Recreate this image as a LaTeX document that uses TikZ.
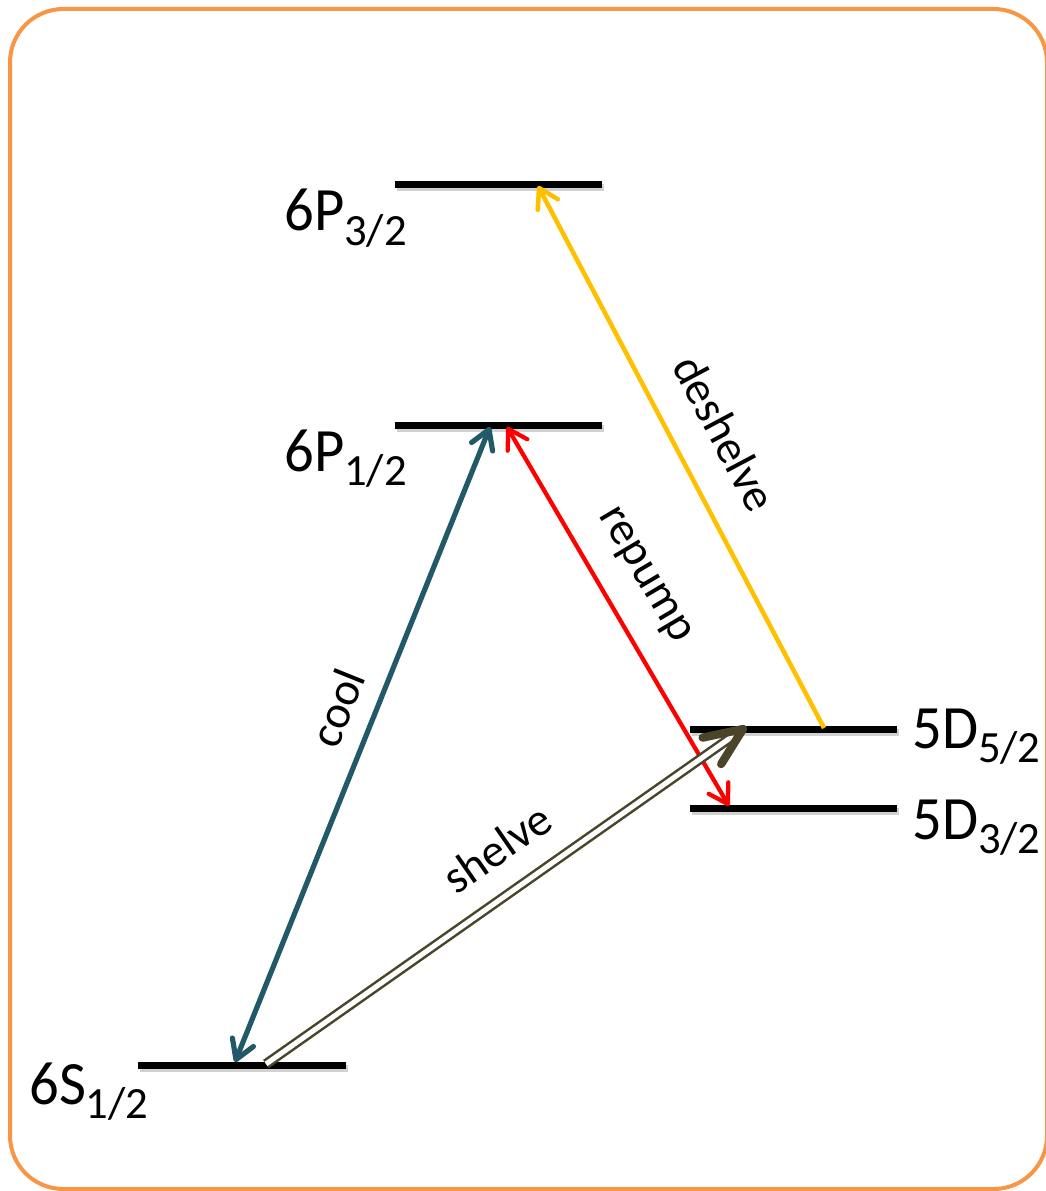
\documentclass[tikz,border=0pt]{standalone}
\usepackage{fontspec}
\setmainfont{Carlito}
\usetikzlibrary{arrows.meta,calc}
\definecolor{frameorange}{RGB}{247,150,70}
\definecolor{coolteal}{RGB}{34,89,105}
\definecolor{deshelvegold}{RGB}{255,192,0}
\definecolor{shelveolive}{RGB}{74,69,42}
\newcommand\lvllabel[2]{\scalebox{1}[1.05]{\fontsize{44}{48}\selectfont #1}{\fontsize{33.5}{36}\selectfont\raisebox{-11pt}{#2}}}
\tikzset{
  level/.style={line width=5.25pt, black},
  levelshadow/.style={line width=5.25pt, black!18},
  lvltext/.style={inner sep=0pt, anchor=base west},
  arrowlab/.style={inner sep=0pt, font=\fontsize{35}{38}\selectfont},
  dbarb/.style={{Straight Barb[round,length=14pt,width=17pt]}-{Straight Barb[round,length=14pt,width=17pt]}},
  sbarb/.style={-{Straight Barb[round,length=14pt,width=17pt]}},
}
\begin{document}
\begin{tikzpicture}[x=0.75pt,y=-0.75pt]
\useasboundingbox (0,0) rectangle (1045,1191);
% frame
\draw[frameorange, line width=3pt, rounded corners=40pt] (10,9) rectangle (1047,1189);

% level coordinates
\coordinate (p32L) at (395,185); \coordinate (p32R) at (602,185);
\coordinate (p12L) at (395,425); \coordinate (p12R) at (602,425);
\coordinate (d52L) at (690,729); \coordinate (d52R) at (897,729);
\coordinate (d32L) at (690,808); \coordinate (d32R) at (897,808);
\coordinate (s12L) at (138,1065); \coordinate (s12R) at (346,1065);

% shadows
\foreach \a/\b in {p32L/p32R,p12L/p12R,d52L/d52R,d32L/d32R,s12L/s12R}
  \draw[levelshadow] ($(\a)+(2,3)$) -- ($(\b)+(2,3)$);
% levels
\draw[level] (p32L) -- (p32R);
\draw[level] (p12L) -- (p12R);
\draw[level] (d52L) -- (d52R);
\draw[level] (d32L) -- (d32R);
\draw[level] (s12L) -- (s12R);

% level labels
\node[lvltext] (t6p32) at (284,231) {\lvllabel{6P}{3/2}};
\node[lvltext] (t6p12) at (284,471) {\lvllabel{6P}{1/2}};
\node[lvltext] (t5d52) at (912,748) {\lvllabel{5D}{5/2}};
\node[lvltext] (t5d32) at (912,839) {\lvllabel{5D}{3/2}};
\node[lvltext] (t6s12) at (29,1104) {\lvllabel{6S}{1/2}};

% transition endpoints
\coordinate (coolTop) at (490,427);
\coordinate (coolBot) at (235,1062);
\coordinate (repTop) at (507,427);
\coordinate (repBot) at (729,806);
\coordinate (desTop) at (538,186);
\coordinate (desBot) at (824,728);
\coordinate (shA) at (266,1064);
\coordinate (shB) at (743,729);

% cool
\draw[coolteal, line width=3.9pt, dbarb] (coolBot) -- (coolTop);
% repump
\draw[red, line width=3.2pt, dbarb] (repTop) -- (repBot);
% deshelve
\draw[deshelvegold, line width=3.4pt, sbarb] (desBot) -- (desTop);
% shelve (double line with heavy barb)
\draw[shelveolive, line width=1.9pt, double=white, double distance=3.8pt, shorten >=12pt] (shA) -- (shB);
\draw[shelveolive, line width=6.2pt, line cap=round, line join=round]
  ($(shB)!31pt!23:(shA)$) -- (shB) -- ($(shB)!31pt!-23:(shA)$);

% transition labels
\node[arrowlab, rotate=68.1] (lcool) at (337,708) {cool};
\node[arrowlab, rotate=-59.4] (lrep) at (643,576) {repump};
\node[arrowlab, rotate=-62] (ldes) at (725,433) {deshelve};
\node[arrowlab, rotate=34.7] (lshe) at (497,848) {shelve};
\end{tikzpicture}
\end{document}
